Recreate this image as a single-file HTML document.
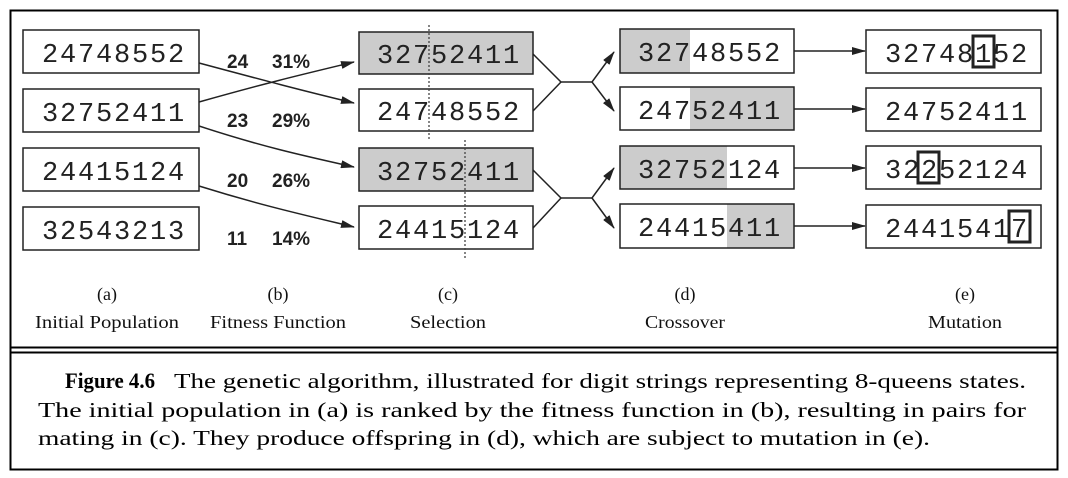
<!DOCTYPE html>
<html><head><meta charset="utf-8"><style>
html,body{margin:0;padding:0;background:#fff}
svg{display:block}
.m{font-family:"Liberation Mono",monospace;font-size:27px;fill:#222}
.b{font-family:"Liberation Sans",sans-serif;font-weight:bold;font-size:19px;fill:#222}
.s{font-family:"Liberation Serif",serif;font-size:18px;fill:#111}
.c{font-family:"Liberation Serif",serif;font-size:21px;fill:#000}
</style></head><body>
<svg width="1068" height="478" viewBox="0 0 1068 478" xmlns="http://www.w3.org/2000/svg">
<defs><marker id="ah" markerWidth="14" markerHeight="8" refX="13" refY="4" orient="auto" markerUnits="userSpaceOnUse"><path d="M0,0 L14,4 L0,8 Z" fill="#222"/></marker></defs>
<rect x="10.5" y="10.5" width="1047" height="459" fill="none" stroke="#000" stroke-width="2"/>
<line x1="10" y1="347.5" x2="1058" y2="347.5" stroke="#000" stroke-width="2"/>
<line x1="10" y1="352.5" x2="1058" y2="352.5" stroke="#000" stroke-width="2"/>
<g fill="none" stroke="#222" stroke-width="1.5">
<rect x="23" y="30" width="176" height="43" fill="#fff"/>
<rect x="23" y="89" width="176" height="43" fill="#fff"/>
<rect x="23" y="148" width="176" height="43" fill="#fff"/>
<rect x="23" y="207" width="176" height="43" fill="#fff"/>
<rect x="359" y="32" width="174" height="42" fill="#ccc"/>
<rect x="359" y="89" width="174" height="42" fill="#fff"/>
<rect x="359" y="148" width="174" height="43" fill="#ccc"/>
<rect x="359" y="206" width="174" height="43" fill="#fff"/>
</g>
<rect x="620" y="29" width="70" height="44" fill="#ccc"/>
<rect x="690" y="87" width="104" height="43" fill="#ccc"/>
<rect x="620" y="146" width="107" height="43" fill="#ccc"/>
<rect x="727" y="204" width="67" height="44" fill="#ccc"/>
<g fill="none" stroke="#222" stroke-width="1.5">
<rect x="620" y="29" width="174" height="44"/>
<rect x="620" y="87" width="174" height="43"/>
<rect x="620" y="146" width="174" height="43"/>
<rect x="620" y="204" width="174" height="44"/>
<rect x="866" y="30" width="175" height="43"/>
<rect x="866" y="88" width="175" height="43"/>
<rect x="866" y="146" width="175" height="43"/>
<rect x="866" y="205" width="175" height="43"/>
</g>
<g fill="none" stroke="#222" stroke-width="3">
<rect x="973" y="36" width="21" height="31"/>
<rect x="918" y="152" width="21" height="31"/>
<rect x="1009" y="211" width="21" height="31"/>
</g>
<g stroke="#444" stroke-width="1.3" stroke-dasharray="2,2">
<line x1="429" y1="25" x2="429" y2="140"/>
<line x1="465" y1="140" x2="465" y2="260"/>
</g>
<g class="m">
<text x="42 60 78 96 114 132 150 168" y="62">24748552</text>
<text x="42 60 78 96 114 132 150 168" y="121">32752411</text>
<text x="42 60 78 96 114 132 150 168" y="180">24415124</text>
<text x="42 60 78 96 114 132 150 168" y="239">32543213</text>
<text x="377 395 413 431 449 467 485 503" y="63">32752411</text>
<text x="377 395 413 431 449 467 485 503" y="120">24748552</text>
<text x="377 395 413 431 449 467 485 503" y="180">32752411</text>
<text x="377 395 413 431 449 467 485 503" y="238">24415124</text>
<text x="638 656 674 692 710 728 746 764" y="61">32748552</text>
<text x="638 656 674 692 710 728 746 764" y="119">24752411</text>
<text x="638 656 674 692 710 728 746 764" y="178">32752124</text>
<text x="638 656 674 692 710 728 746 764" y="236">24415411</text>
<text x="885 903 921 939 957 975 993 1011" y="62">32748152</text>
<text x="885 903 921 939 957 975 993 1011" y="120">24752411</text>
<text x="885 903 921 939 957 975 993 1011" y="178">32252124</text>
<text x="885 903 921 939 957 975 993 1011" y="237">24415417</text>
</g>
<g class="b">
<text x="227" y="68">24</text><text x="272" y="68">31%</text>
<text x="227" y="127">23</text><text x="272" y="127">29%</text>
<text x="227" y="187">20</text><text x="272" y="187">26%</text>
<text x="227" y="245">11</text><text x="272" y="245">14%</text>
</g>
<g fill="none" stroke="#222" stroke-width="1.5">
<path d="M199,63 C270,82 300,90 354,103" marker-end="url(#ah)"/>
<path d="M199,102 C270,82 300,75 354,62" marker-end="url(#ah)"/>
<path d="M199,126 C260,146 300,155 354,167" marker-end="url(#ah)"/>
<path d="M199,186 C260,205 300,214 354,227" marker-end="url(#ah)"/>
<path d="M533,54 L561,82 L592,82 L614,52" marker-end="url(#ah)"/>
<path d="M533,111 L561,82 M592,82 L614,111" marker-end="url(#ah)"/>
<path d="M533,170 L561,198 L592,198 L614,168" marker-end="url(#ah)"/>
<path d="M533,228 L561,198 M592,198 L614,228" marker-end="url(#ah)"/>
<line x1="794" y1="51" x2="865" y2="51" marker-end="url(#ah)"/>
<line x1="794" y1="109" x2="865" y2="109" marker-end="url(#ah)"/>
<line x1="794" y1="168" x2="865" y2="168" marker-end="url(#ah)"/>
<line x1="794" y1="226" x2="865" y2="226" marker-end="url(#ah)"/>
</g>
<g class="s" text-anchor="middle">
<text x="107" y="300">(a)</text><text x="107" y="328" textLength="144" lengthAdjust="spacingAndGlyphs">Initial Population</text>
<text x="278" y="300">(b)</text><text x="278" y="328" textLength="136" lengthAdjust="spacingAndGlyphs">Fitness Function</text>
<text x="448" y="300">(c)</text><text x="448" y="328" textLength="76" lengthAdjust="spacingAndGlyphs">Selection</text>
<text x="685" y="300">(d)</text><text x="685" y="328" textLength="80" lengthAdjust="spacingAndGlyphs">Crossover</text>
<text x="965" y="300">(e)</text><text x="965" y="328" textLength="74" lengthAdjust="spacingAndGlyphs">Mutation</text>
</g>
<g class="c">
<text x="65" y="388" font-weight="bold" font-size="22" textLength="90" lengthAdjust="spacingAndGlyphs">Figure 4.6</text>
<text x="174" y="388" textLength="852" lengthAdjust="spacingAndGlyphs">The genetic algorithm, illustrated for digit strings representing 8-queens states.</text>
<text x="38" y="417" textLength="988" lengthAdjust="spacingAndGlyphs">The initial population in (a) is ranked by the fitness function in (b), resulting in pairs for</text>
<text x="38" y="445" textLength="892" lengthAdjust="spacingAndGlyphs">mating in (c). They produce offspring in (d), which are subject to mutation in (e).</text>
</g>
</svg>
</body></html>
